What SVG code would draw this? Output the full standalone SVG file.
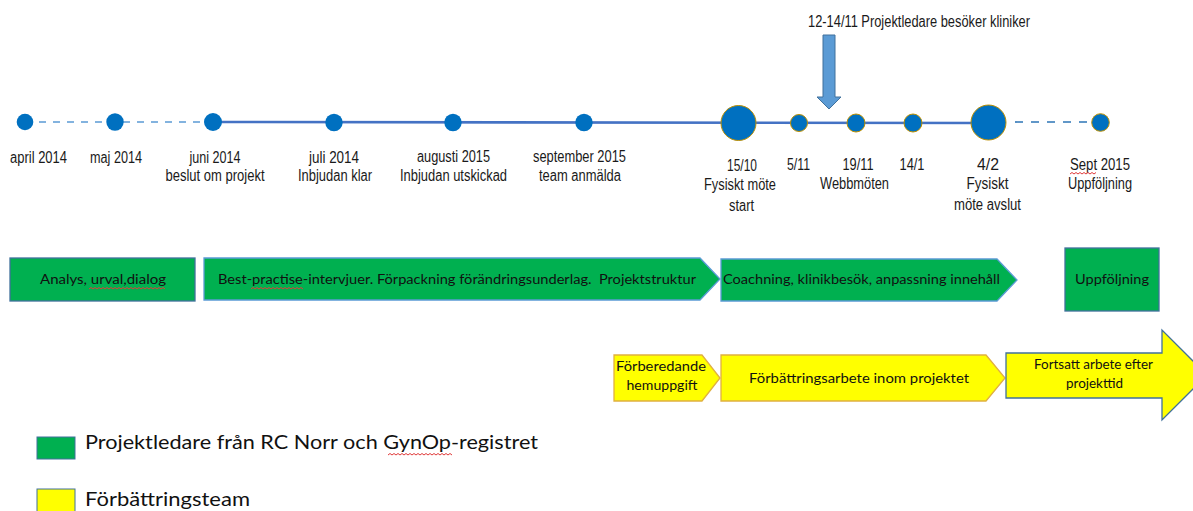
<svg xmlns="http://www.w3.org/2000/svg" width="1193" height="511" viewBox="0 0 1193 511">
<style>
.lbl{font-family:"Liberation Sans Narrow","Liberation Sans",Arial,sans-serif;font-size:16px;fill:#1a1a1a;text-anchor:middle}
.dot{fill:#0070C0}
.dotb{fill:#0070C0;stroke:#BF9000;stroke-width:1}
.box{font-family:Lato,"Liberation Sans",sans-serif;font-size:14px;fill:#111}
.g1{fill:#00B050;stroke:#41719C;stroke-width:1.3}
.g2{fill:#00B050;stroke:#5B9BD5;stroke-width:1.3}
.y1{fill:#FFFF00;stroke:#E0B040;stroke-width:1.3}
.y2{fill:#FFFF00;stroke:#41719C;stroke-width:1.3}
.sq{fill:none;stroke:#E03A3A;stroke-width:1}
.leg{font-family:Lato,"Liberation Sans",sans-serif;font-size:20px;fill:#111}
</style>
<g id="connectors">
<line x1="25" y1="122" x2="213" y2="122" stroke="#5B9BD5" stroke-width="1.6" stroke-dasharray="7,7"/>
<line x1="213" y1="122" x2="988" y2="123" stroke="#4472C4" stroke-width="2.6"/>
<line x1="1015" y1="122" x2="1090" y2="122" stroke="#2E75B6" stroke-width="1.6" stroke-dasharray="8,8"/>
</g>
<g id="visit-arrow">
<polygon points="823,35 835,35 835,97 841,97 829,109 817,97 823,97" fill="#5B9BD5" stroke="#41719C" stroke-width="1"/>
<text class="lbl" x="919" y="27" textLength="222" lengthAdjust="spacingAndGlyphs">12-14/11 Projektledare besöker kliniker</text>
</g>
<g id="n-april"><circle class="dot" cx="25" cy="122" r="8.3"/><text class="lbl" x="38.5" y="163" textLength="57" lengthAdjust="spacingAndGlyphs">april 2014</text></g>
<g id="n-maj"><circle class="dot" cx="115" cy="122" r="8.7"/><text class="lbl" x="116" y="163" textLength="52" lengthAdjust="spacingAndGlyphs">maj 2014</text></g>
<g id="n-juni"><circle class="dot" cx="213" cy="122" r="9"/><text class="lbl" x="215" y="163" textLength="51" lengthAdjust="spacingAndGlyphs">juni 2014</text><text class="lbl" x="215" y="181" textLength="99" lengthAdjust="spacingAndGlyphs">beslut om projekt</text></g>
<g id="n-juli"><circle class="dot" cx="334" cy="122.5" r="8.7"/><text class="lbl" x="334" y="163" textLength="50" lengthAdjust="spacingAndGlyphs">juli 2014</text><text class="lbl" x="335" y="181" textLength="74" lengthAdjust="spacingAndGlyphs">Inbjudan klar</text></g>
<g id="n-augusti"><circle class="dot" cx="453" cy="122.5" r="8.7"/><text class="lbl" x="453.5" y="162" textLength="73" lengthAdjust="spacingAndGlyphs">augusti 2015</text><text class="lbl" x="453.5" y="181" textLength="107" lengthAdjust="spacingAndGlyphs">Inbjudan utskickad</text></g>
<g id="n-september"><circle class="dot" cx="584" cy="122.5" r="8.7"/><text class="lbl" x="579.5" y="162" textLength="93" lengthAdjust="spacingAndGlyphs">september 2015</text><text class="lbl" x="580" y="181" textLength="82" lengthAdjust="spacingAndGlyphs">team anmälda</text></g>
<g id="n-1510"><circle class="dotb" cx="738.5" cy="123" r="17.5"/><text class="lbl" x="742" y="171" textLength="30" lengthAdjust="spacingAndGlyphs">15/10</text><text class="lbl" x="740" y="190" textLength="72" lengthAdjust="spacingAndGlyphs">Fysiskt möte</text><text class="lbl" x="741.5" y="211" textLength="25" lengthAdjust="spacingAndGlyphs">start</text></g>
<g id="n-511"><circle class="dotb" cx="799" cy="123" r="8.5"/><text class="lbl" x="798.5" y="170" textLength="23" lengthAdjust="spacingAndGlyphs">5/11</text></g>
<g id="n-1911"><circle class="dotb" cx="856" cy="123" r="9"/><text class="lbl" x="858" y="170" textLength="31" lengthAdjust="spacingAndGlyphs">19/11</text><text class="lbl" x="854.5" y="189" textLength="69" lengthAdjust="spacingAndGlyphs">Webbmöten</text></g>
<g id="n-141"><circle class="dotb" cx="913" cy="123" r="9"/><text class="lbl" x="912" y="170" textLength="25" lengthAdjust="spacingAndGlyphs">14/1</text></g>
<g id="n-42"><circle class="dotb" cx="988.5" cy="122.5" r="17.5"/><text class="lbl" x="988" y="170" textLength="22" lengthAdjust="spacingAndGlyphs">4/2</text><text class="lbl" x="987.5" y="189" textLength="42" lengthAdjust="spacingAndGlyphs">Fysiskt</text><text class="lbl" x="987.5" y="210" textLength="67" lengthAdjust="spacingAndGlyphs">möte avslut</text></g>
<g id="n-sept"><circle class="dotb" cx="1100.5" cy="122.5" r="8.8"/><text class="lbl" x="1100" y="170" textLength="60" lengthAdjust="spacingAndGlyphs">Sept 2015</text><path class="sq" d="M1070,174 l2,-1.5 l2,1.5 l2,-1.5 l2,1.5 l2,-1.5 l2,1.5 l2,-1.5 l2,1.5 l2,-1.5 l2,1.5 l2,-1.5 l2,1.5 l2,-1.5"/><text class="lbl" x="1100" y="189" textLength="64" lengthAdjust="spacingAndGlyphs">Uppföljning</text></g>
<g id="b-analys">
<rect class="g1" x="10" y="258" width="185" height="43"/>
<text class="box" x="40" y="284" textLength="126" lengthAdjust="spacingAndGlyphs">Analys, urval,dialog</text>
<path class="sq" d="M89,289 l2,-1.5 l2,1.5 l2,-1.5 l2,1.5 l2,-1.5 l2,1.5 l2,-1.5 l2,1.5 l2,-1.5 l2,1.5 l2,-1.5 l2,1.5 l2,-1.5 l2,1.5 l2,-1.5 l2,1.5 l2,-1.5 l2,1.5 l2,-1.5 l2,1.5 l2,-1.5 l2,1.5 l2,-1.5 l2,1.5 l2,-1.5 l2,1.5 l2,-1.5 l2,1.5 l2,-1.5 l2,1.5 l2,-1.5 l2,1.5 l2,-1.5 l2,1.5 l2,-1.5 l2,1.5 l2,-1.5 l2,1.5"/>
</g>
<g id="b-bestpractise">
<polygon class="g2" points="204,258 700,258 720,279 700,300 204,300"/>
<text class="box" x="218" y="284" textLength="478" lengthAdjust="spacingAndGlyphs" xml:space="preserve">Best-practise-intervjuer. Förpackning förändringsunderlag.  Projektstruktur</text>
<path class="sq" d="M251,289 l2,-1.5 l2,1.5 l2,-1.5 l2,1.5 l2,-1.5 l2,1.5 l2,-1.5 l2,1.5 l2,-1.5 l2,1.5 l2,-1.5 l2,1.5 l2,-1.5 l2,1.5 l2,-1.5 l2,1.5 l2,-1.5 l2,1.5 l2,-1.5 l2,1.5 l2,-1.5 l2,1.5 l2,-1.5 l2,1.5 l2,-1.5 l2,1.5"/>
</g>
<g id="b-coachning">
<polygon class="g2" points="721,259 997,259 1017,280 997,301 721,301"/>
<text class="box" x="723" y="284" textLength="277" lengthAdjust="spacingAndGlyphs">Coachning, klinikbesök, anpassning innehåll</text>
</g>
<g id="b-uppfoljning">
<rect class="g1" x="1065" y="248" width="94" height="63"/>
<text class="box" x="1112" y="284" text-anchor="middle" textLength="74" lengthAdjust="spacingAndGlyphs">Uppföljning</text>
</g>
<g id="y-forberedande">
<polygon class="y1" points="614,355 702,355 720,378 702,401 614,401"/>
<text class="box" x="661" y="371" text-anchor="middle" font-size="13" textLength="90" lengthAdjust="spacingAndGlyphs">Förberedande</text>
<text class="box" x="662" y="390" text-anchor="middle" font-size="13" textLength="71" lengthAdjust="spacingAndGlyphs">hemuppgift</text>
</g>
<g id="y-forbattringsarbete">
<polygon class="y1" points="721,355 986,355 1005,378 986,401 721,401"/>
<text class="box" x="859" y="383" text-anchor="middle" textLength="220" lengthAdjust="spacingAndGlyphs">Förbättringsarbete inom projektet</text>
</g>
<g id="y-fortsatt">
<polygon class="y2" points="1006,353 1162,353 1162,330 1207,375 1162,420 1162,398 1006,398"/>
<text class="box" x="1093.5" y="369" text-anchor="middle" font-size="13" textLength="119" lengthAdjust="spacingAndGlyphs">Fortsatt arbete efter</text>
<text class="box" x="1094.5" y="388" text-anchor="middle" font-size="13" textLength="57" lengthAdjust="spacingAndGlyphs">projekttid</text>
</g>
<g id="legend-green">
<rect x="37" y="437" width="38" height="22" fill="#00B050" stroke="#41719C" stroke-width="1"/>
<text class="leg" x="85" y="449" textLength="453" lengthAdjust="spacingAndGlyphs">Projektledare från RC Norr och GynOp-registret</text>
<path class="sq" d="M388,455 l2,-1.5 l2,1.5 l2,-1.5 l2,1.5 l2,-1.5 l2,1.5 l2,-1.5 l2,1.5 l2,-1.5 l2,1.5 l2,-1.5 l2,1.5 l2,-1.5 l2,1.5 l2,-1.5 l2,1.5 l2,-1.5 l2,1.5 l2,-1.5 l2,1.5 l2,-1.5 l2,1.5 l2,-1.5 l2,1.5 l2,-1.5 l2,1.5 l2,-1.5 l2,1.5 l2,-1.5 l2,1.5 l2,-1.5 l2,1.5"/>
</g>
<g id="legend-yellow">
<rect x="37" y="489" width="38" height="24" fill="#FFFF00" stroke="#41719C" stroke-width="1"/>
<text class="leg" x="85" y="506" textLength="165" lengthAdjust="spacingAndGlyphs">Förbättringsteam</text>
</g>
</svg>
